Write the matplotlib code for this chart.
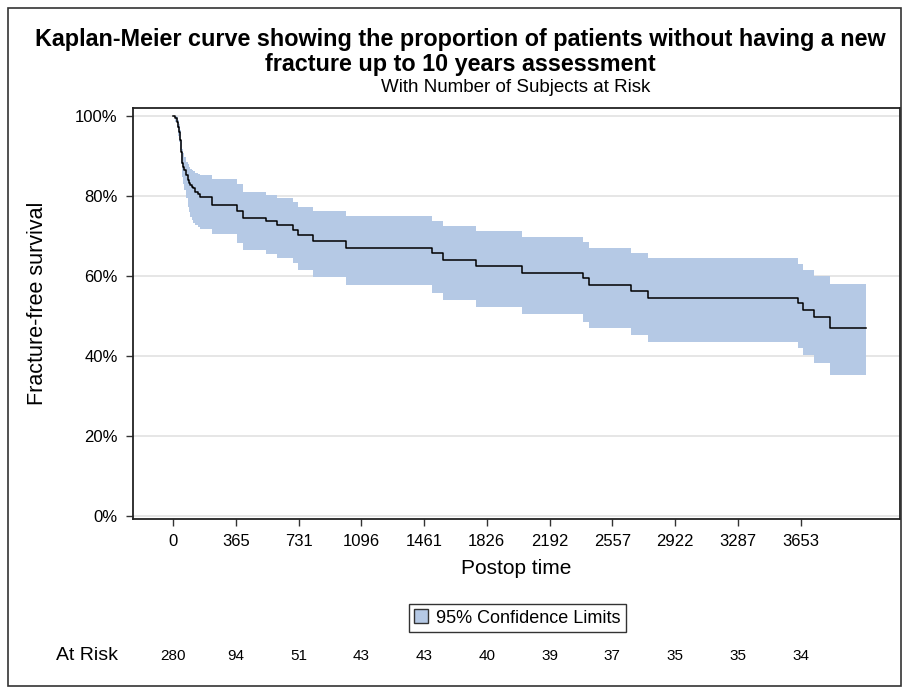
import numpy as np
import matplotlib
matplotlib.use("Agg")
import matplotlib.pyplot as plt
import matplotlib.transforms as mtransforms
from matplotlib.patches import Patch, Rectangle

plt.rcParams['font.family'] = ['Liberation Sans', 'DejaVu Sans']

# step times (days) and survival (%) after each step, with 95% CI
time = [0, 12, 21, 31, 36, 41, 44, 47, 51, 54, 60, 64, 76, 85, 92, 99, 110, 118, 128, 147, 157,
        225, 371, 405, 540, 603, 700, 726, 813, 1009, 1509, 1569, 1761, 2033, 2389, 2424,
        2666, 2763, 3640, 3665, 3733, 3824, 4034]
surv = [100, 99.4, 98.6, 97.3, 96, 94, 92.5, 91.1, 89.5, 88.2, 87.3, 86.5, 85.25, 84, 83.3, 82.75,
        82.3, 81.9, 81.1, 80.6, 79.7, 77.8, 76.3, 74.4, 73.7, 72.75, 71.6, 70.25, 68.75, 67.1,
        65.7, 64.0, 62.5, 60.8, 59.4, 57.75, 56.3, 54.6, 53.2, 51.5, 49.7, 47.1, 47.1]
upper = [100, 100, 99.8, 99, 98, 96.5, 95.3, 94, 92.8, 91.8, 90.7, 89.8, 88.5, 88, 87.3, 86.8,
         86.5, 86.2, 85.8, 85.5, 85.25, 84.3, 83, 81, 80.25, 79.4, 78.6, 77.3, 76.2, 74.9,
         73.75, 72.5, 71.25, 69.8, 68.6, 67.1, 65.8, 64.4, 62.9, 61.5, 60, 57.9, 57.9]
lower = [100, 98.5, 97, 95, 93.5, 91.5, 89.5, 88, 86, 84.8, 83, 81.5, 79.5, 77.3, 76, 74.8,
         74, 73.2, 72.7, 72.3, 71.8, 70.5, 68.2, 66.5, 65.5, 64.4, 63.2, 61.5, 59.7, 57.75,
         55.8, 54, 52.2, 50.4, 48.6, 46.9, 45.25, 43.6, 41.9, 40.25, 38.3, 35.25, 35.25]

xticks = [0, 365, 731, 1096, 1461, 1826, 2192, 2557, 2922, 3287, 3653]
at_risk = [280, 94, 51, 43, 43, 40, 39, 37, 35, 35, 34]
yticks = [0, 20, 40, 60, 80, 100]

band_color = '#b5c9e5'

fig = plt.figure(figsize=(9.03, 6.87), dpi=100)
ax = fig.add_axes([133/903, 1-519/687, 767/903, 411/687])

ax.fill_between(time, lower, upper, step='post', color=band_color, linewidth=0, zorder=2)
ax.step(time, surv, where='post', color='black', linewidth=1.1, zorder=3)

ax.set_xlim(-233, 4232)
ax.set_ylim(-0.75, 102)
ax.set_xticks(xticks)
ax.set_xticklabels([str(t) for t in xticks], fontsize=12)
ax.set_yticks(yticks)
ax.set_yticklabels([f"{v}%" for v in yticks], fontsize=12)
ax.yaxis.grid(True, color='#e2e2e2', linewidth=1.2, zorder=0)
ax.set_axisbelow(True)
ax.tick_params(direction='out', length=5, width=1, color='#333333', pad=6)
for s in ax.spines.values():
    s.set_linewidth(1.3)
    s.set_color('#222222')

ax.set_xlabel("Postop time", fontsize=15, labelpad=7)
fig.text(38/903, 1-303/687, "Fracture-free survival", rotation=90, fontsize=15.5,
         ha='center', va='center')

fig.text(460/903, 1-52/687, "Kaplan-Meier curve showing the proportion of patients without having a new\nfracture up to 10 years assessment",
         ha='center', va='center', fontsize=16.8, fontweight='bold', linespacing=1.1)
fig.text(516/903, 1-88/687, "With Number of Subjects at Risk", ha='center', va='center', fontsize=13.5)

leg = fig.legend(handles=[Patch(facecolor=band_color, edgecolor='#333333', linewidth=1)],
                 labels=["95% Confidence Limits"], loc='center',
                 bbox_to_anchor=(517/903, 1-618/687), fontsize=13, fancybox=False,
                 handlelength=0.8, handleheight=0.8, handletextpad=0.4, borderpad=0.3)
leg.get_frame().set_edgecolor('black')
leg.get_frame().set_linewidth(1)

trans = mtransforms.blended_transform_factory(ax.transData, fig.transFigure)
for t, n in zip(xticks, at_risk):
    ax.text(t, 1-656/687, str(n), transform=trans, ha='center', va='center', fontsize=11)
fig.text(87/903, 1-655/687, "At Risk", ha='center', va='center', fontsize=14)

fig.patches.append(Rectangle((8/903, 0.002), 893.5/903, 1-8/687-0.002, transform=fig.transFigure,
                             fill=False, edgecolor='#333333', linewidth=1.2))

fig.savefig("out.png", dpi=100)
